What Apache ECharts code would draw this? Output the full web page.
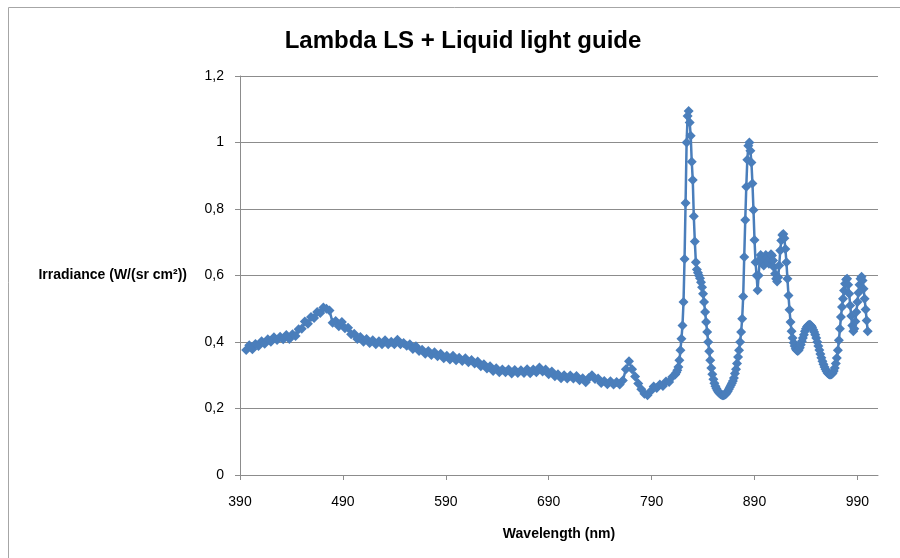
<!DOCTYPE html>
<html><head><meta charset="utf-8">
<script src="https://cdn.jsdelivr.net/npm/echarts@6/dist/echarts.min.js"></script>
<style>html,body{margin:0;padding:0;background:#fff}#c{width:900px;height:558px}</style>
</head><body><div id="c"></div>
<script>
// Wavelength (nm) of each sample
const wavelengths = [
396,399,402,405,408,411,414,417,420,423,426,429,432,435,438,441,444,447,450,453,
456,459,462,465,468,471,474,477,480,483,486,489,492,495,498,501,504,507,510,513,
516,519,522,525,528,531,534,537,540,543,546,549,552,555,558,561,564,567,570,573,
576,579,582,585,588,591,594,597,600,603,606,609,612,615,618,621,624,627,630,633,
636,639,642,645,648,651,654,657,660,663,666,669,672,675,678,681,684,687,690,693,
696,699,702,705,708,711,714,717,720,723,726,729,732,735,738,741,744,747,750,753,
756,759,762,765,768,771,774,777,780,783,786,789,792,795,798,801,804,807,810,813,
814,815,816,817,818,819,820,821,822,823,824,825,826,827,828,829,830,831,832,833,
834,835,836,837,838,839,840,841,842,843,844,845,846,847,848,849,850,851,852,853,
854,855,856,857,858,859,860,861,862,863,864,865,866,867,868,869,870,871,872,873,
874,875,876,877,878,879,880,881,882,883,884,885,886,887,888,889,890,891,892,893,
894,895,896,897,898,899,900,901,902,903,904,905,906,907,908,909,910,911,912,913,
914,915,916,917,918,919,920,921,922,923,924,925,926,927,928,929,930,931,932,933,
934,935,936,937,938,939,940,941,942,943,944,945,946,947,948,949,950,951,952,953,
954,955,956,957,958,959,960,961,962,963,964,965,966,967,968,969,970,971,972,973,
974,975,976,977,978,979,980,981,982,983,984,985,986,987,988,989,990,991,992,993,
994,995,996,997,998,999,1000
];
// Irradiance (W/(sr cm²)) of each sample
const irradiance = [
0.376,0.390,0.378,0.394,0.388,0.402,0.395,0.408,0.401,0.414,0.406,0.416,0.408,0.421,0.409,0.423,0.418,0.438,0.440,0.462,
0.455,0.475,0.472,0.490,0.487,0.504,0.500,0.495,0.458,0.463,0.447,0.460,0.441,0.443,0.423,0.425,0.409,0.415,0.401,0.409,
0.397,0.405,0.393,0.402,0.393,0.405,0.393,0.401,0.393,0.407,0.393,0.397,0.389,0.393,0.379,0.387,0.373,0.377,0.365,0.373,
0.361,0.369,0.357,0.365,0.351,0.359,0.347,0.359,0.345,0.353,0.343,0.351,0.339,0.346,0.335,0.341,0.327,0.333,0.320,0.327,
0.313,0.321,0.309,0.317,0.309,0.317,0.305,0.316,0.307,0.315,0.307,0.318,0.306,0.317,0.309,0.323,0.311,0.317,0.303,0.311,
0.297,0.303,0.291,0.300,0.290,0.299,0.290,0.298,0.285,0.291,0.279,0.292,0.300,0.289,0.290,0.277,0.283,0.273,0.282,0.272,
0.280,0.272,0.284,0.318,0.342,0.318,0.296,0.275,0.258,0.244,0.240,0.252,0.266,0.262,0.272,0.268,0.281,0.280,0.295,0.302,
0.308,0.315,0.325,0.345,0.375,0.410,0.450,0.520,0.650,0.818,1.000,1.080,1.095,1.060,1.020,0.942,0.887,0.778,0.702,0.640,
0.618,0.608,0.600,0.592,0.580,0.565,0.545,0.520,0.490,0.460,0.430,0.400,0.372,0.345,0.322,0.303,0.288,0.276,0.267,0.260,
0.254,0.250,0.246,0.243,0.241,0.240,0.240,0.241,0.243,0.247,0.252,0.258,0.264,0.270,0.276,0.283,0.292,0.305,0.318,0.335,
0.355,0.375,0.400,0.430,0.470,0.537,0.656,0.767,0.867,0.948,0.990,1.000,0.975,0.940,0.877,0.797,0.707,0.640,0.600,0.556,
0.600,0.645,0.662,0.655,0.640,0.630,0.648,0.662,0.655,0.642,0.635,0.650,0.664,0.660,0.645,0.625,0.605,0.590,0.582,0.595,
0.630,0.675,0.705,0.722,0.725,0.712,0.680,0.640,0.590,0.540,0.497,0.460,0.432,0.412,0.398,0.388,0.380,0.375,0.373,0.376,
0.383,0.392,0.402,0.412,0.422,0.432,0.440,0.446,0.450,0.452,0.452,0.449,0.444,0.437,0.430,0.422,0.412,0.400,0.388,0.376,
0.364,0.353,0.342,0.333,0.325,0.318,0.312,0.307,0.304,0.302,0.302,0.303,0.307,0.313,0.322,0.335,0.352,0.375,0.405,0.440,
0.475,0.505,0.530,0.555,0.575,0.588,0.590,0.572,0.545,0.510,0.478,0.450,0.432,0.440,0.462,0.490,0.520,0.548,0.572,0.590,
0.596,0.585,0.560,0.530,0.498,0.465,0.432
];
const xTicks = [390, 490, 590, 690, 790, 890, 990];
const yTicks = [0, 0.2, 0.4, 0.6, 0.8, 1.0, 1.2];
const titleText = 'Lambda LS + Liquid light guide';
const xName = 'Wavelength (nm)';
const yName = 'Irradiance (W/(sr cm²))';

const FONT = 'Liberation Sans';
const GRID_COLOR = '#8c8c8c';
const SERIES_COLOR = '#4a7ebb';

const chart = echarts.init(document.getElementById('c'), null, {renderer: 'canvas'});
chart.setOption({
  animation: false,
  backgroundColor: '#fff',
  graphic: [
    {type: 'line', silent: true, shape: {x1: 8.5, y1: 7.5, x2: 900, y2: 7.5}, style: {stroke: '#a6a6a6', lineWidth: 1}},
    {type: 'line', silent: true, shape: {x1: 8.5, y1: 7.5, x2: 8.5, y2: 558}, style: {stroke: '#a6a6a6', lineWidth: 1}}
  ],
  title: {
    text: titleText, left: 458, top: 24, textAlign: 'center',
    textStyle: {fontFamily: FONT, fontSize: 24, fontWeight: 'bold', color: '#000'}
  },
  grid: {left: 240, top: 76, right: 22, bottom: 83, containLabel: false},
  xAxis: {
    type: 'value', min: 390, max: 1010, interval: 100,
    name: xName, nameLocation: 'middle', nameGap: 52,
    nameTextStyle: {fontFamily: FONT, fontSize: 14, fontWeight: 'bold', color: '#000'},
    axisLine: {show: true, onZero: false, lineStyle: {color: GRID_COLOR, width: 1}},
    axisTick: {show: true, inside: false, length: 5, customValues: xTicks, lineStyle: {color: GRID_COLOR}},
    axisLabel: {customValues: xTicks, margin: 20, fontFamily: FONT, fontSize: 14, color: '#000'},
    splitLine: {show: false}
  },
  yAxis: {
    type: 'value', min: 0, max: 1.2, interval: 0.2,
    name: yName, nameLocation: 'middle', nameRotate: 0, nameGap: 53,
    nameTextStyle: {fontFamily: FONT, fontSize: 14, fontWeight: 'bold', color: '#000', align: 'right', verticalAlign: 'middle'},
    axisLine: {show: true, lineStyle: {color: GRID_COLOR, width: 1}},
    axisTick: {show: true, inside: false, length: 5, lineStyle: {color: GRID_COLOR}},
    axisLabel: {
      customValues: yTicks, margin: 16, fontFamily: FONT, fontSize: 14, color: '#000',
      formatter: v => String(+(+v).toFixed(1)).replace('.', ',')
    },
    splitLine: {show: true, lineStyle: {color: GRID_COLOR, width: 1}}
  },
  series: [{
    type: 'line',
    data: wavelengths.map((w, i) => [w, irradiance[i]]),
    symbol: 'diamond', symbolSize: 10,
    showAllSymbol: true,
    lineStyle: {color: SERIES_COLOR, width: 2.5},
    itemStyle: {color: SERIES_COLOR},
    emphasis: {disabled: true}
  }]
});
</script></body></html>
